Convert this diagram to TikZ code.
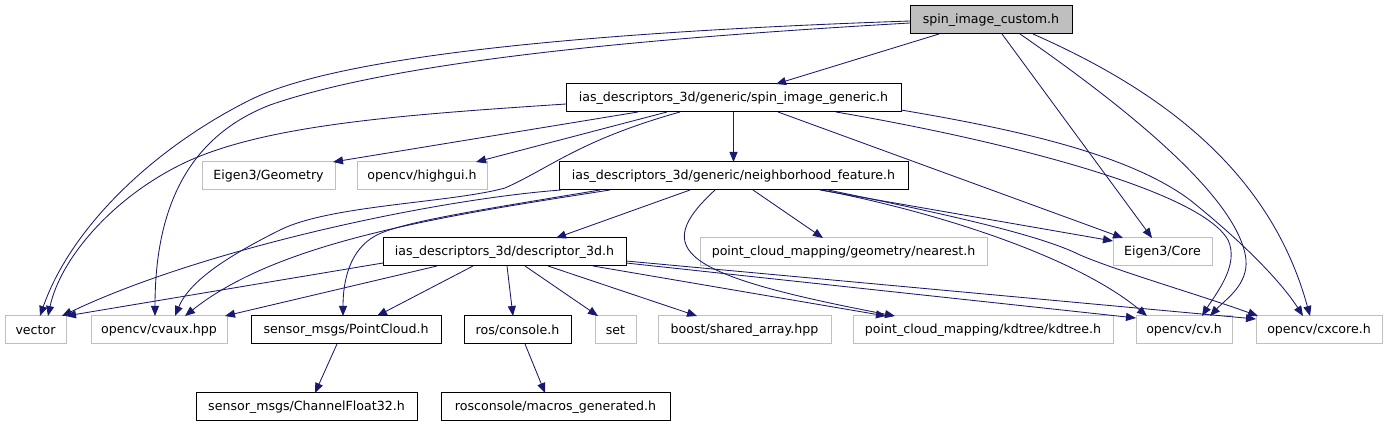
\documentclass[tikz,border=0pt]{standalone}
\usepackage{fontspec}
\setmainfont{DejaVu Sans}
\usetikzlibrary{arrows.meta,calc}
\definecolor{edgeblue}{HTML}{191970}
\definecolor{extgray}{HTML}{BFBFBF}
\tikzset{
  box/.style={rectangle, minimum height=28pt, inner sep=0pt, outer sep=0pt, line width=1pt,
              font=\fontsize{12.6}{15}\selectfont, anchor=north west},
  docbox/.style={box, draw=black, fill=white},
  extbox/.style={box, draw=extgray, fill=white},
  rootbox/.style={box, draw=black, fill=extgray},
  edge/.style={draw=edgeblue, line width=0.85pt, -{Triangle[length=10pt,width=8pt]}},
}
\begin{document}
\begin{tikzpicture}[x=1pt,y=-1pt]
\useasboundingbox[fill=white] (0,0) rectangle (1387,427);
% nodes
\node[rootbox, minimum width=162pt] (C) at (910,6) {spin\_image\_custom.h};
\node[docbox, minimum width=335pt] (G) at (566,84) {ias\_descriptors\_3d/generic/spin\_image\_generic.h};
\node[docbox, minimum width=349pt] (N) at (559,162) {ias\_descriptors\_3d/generic/neighborhood\_feature.h};
\node[extbox, minimum width=133pt] (Geo) at (202,162) {Eigen3/Geometry};
\node[extbox, minimum width=130pt] (HG) at (357,162) {opencv/highgui.h};
\node[docbox, minimum width=243pt] (D) at (383,238) {ias\_descriptors\_3d/descriptor\_3d.h};
\node[extbox, minimum width=287pt] (Near) at (700,238) {point\_cloud\_mapping/geometry/nearest.h};
\node[extbox, minimum width=99pt] (Core) at (1113,238) {Eigen3/Core};
\node[extbox, minimum width=61pt] (Vec) at (5,316) {vector};
\node[extbox, minimum width=136pt] (Cvaux) at (91,316) {opencv/cvaux.hpp};
\node[docbox, minimum width=190pt] (PC) at (251,316) {sensor\_msgs/PointCloud.h};
\node[docbox, minimum width=107pt] (Con) at (464,316) {ros/console.h};
\node[extbox, minimum width=41pt] (Set) at (595,316) {set};
\node[extbox, minimum width=173pt] (Boost) at (658,316) {boost/shared\_array.hpp};
\node[extbox, minimum width=260pt] (Kd) at (853,316) {point\_cloud\_mapping/kdtree/kdtree.h};
\node[extbox, minimum width=96pt] (Cv) at (1136,316) {opencv/cv.h};
\node[extbox, minimum width=126pt] (Cx) at (1256,316) {opencv/cxcore.h};
\node[docbox, minimum width=221pt] (CF) at (196,393) {sensor\_msgs/ChannelFloat32.h};
\node[docbox, minimum width=229pt] (Mac) at (441,393) {rosconsole/macros\_generated.h};
% edges from spin_image_custom.h
\draw[edge] ($(C.north west)+(0,15)$) .. controls (650,30) and (350,50) .. (250,100)
            .. controls (150,150) and (70,230) .. ($(Vec.north west)+(35,0)$);
\draw[edge] ($(C.north west)+(0,17)$) .. controls (650,38) and (400,60) .. (270,105)
            .. controls (180,140) and (155,220) .. ($(Cvaux.north west)+(64,0)$);
\draw[edge] ($(C.north west)+(29,28)$) -- ($(G.north west)+(210,0)$);
\draw[edge] ($(C.north west)+(92,28)$) -- ($(Core.north west)+(39,0)$);
\draw[edge] ($(C.north west)+(110,28)$) .. controls (1130,110) and (1240,200) .. (1246,260)
            .. controls (1248,285) and (1225,300) .. ($(Cv.north west)+(74,0)$);
\draw[edge] ($(C.north west)+(123,28)$) .. controls (1160,90) and (1270,170) .. ($(Cx.north west)+(54,0)$);
% edges from spin_image_generic.h
\draw[edge] ($(G.north west)+(0,20)$) .. controls (400,115) and (260,125) .. (180,165)
            .. controls (110,200) and (60,260) .. ($(Vec.north west)+(43,0)$);
\draw[edge] ($(G.north west)+(72,28)$) -- ($(Geo.north west)+(131,0)$);
\draw[edge] ($(G.north west)+(101,28)$) -- ($(HG.north west)+(119,0)$);
\draw[edge] ($(G.north west)+(114,28)$) .. controls (580,140) and (550,168) .. (505,188)
            .. controls (450,203) and (330,205) .. (280,230)
            .. controls (230,255) and (190,280) .. ($(Cvaux.north west)+(84,0)$);
\draw[edge] (G.south) -- (N.north);
\draw[edge] ($(G.north west)+(212,28)$) -- ($(Core.north west)+(10,0)$);
\draw[edge] ($(G.north west)+(270,28)$) .. controls (1000,140) and (1200,190) .. (1228,240)
            .. controls (1240,265) and (1215,295) .. ($(Cv.north west)+(66,0)$);
\draw[edge] ($(G.north west)+(335,26)$) .. controls (1020,130) and (1130,155) .. (1190,200)
            .. controls (1240,240) and (1280,280) .. ($(Cx.north west)+(47,0)$);
% edges from neighborhood_feature.h
\draw[edge] ($(N.north west)+(2,28)$) .. controls (430,200) and (200,250) .. ($(Vec.north west)+(57,0)$);
\draw[edge] ($(N.north west)+(51,28)$) .. controls (450,215) and (280,240) .. ($(Cvaux.north west)+(94,0)$);
\draw[edge] ($(N.north west)+(131,28)$) -- ($(D.north west)+(173,0)$);
\draw[edge] ($(N.north west)+(41,28)$) .. controls (480,210) and (400,222) .. (375,236)
            .. controls (350,250) and (343,280) .. ($(PC.north west)+(92,0)$);
\draw[edge] ($(N.north west)+(194,28)$) -- ($(Near.north west)+(123,0)$);
\draw[edge] ($(N.north west)+(156,28)$) .. controls (650,250) and (680,275) .. ($(Kd.north west)+(42,0)$);
\draw[edge] ($(N.north west)+(261,28)$) -- ($(Core.north west)+(0,3)$);
\draw[edge] ($(N.north west)+(263,28)$) .. controls (950,215) and (1080,260) .. ($(Cv.north west)+(11,0)$);
\draw[edge] ($(N.north west)+(269,28)$) .. controls (950,215) and (1040,235) .. (1080,255)
            .. controls (1120,272) and (1200,295) .. ($(Cx.north west)+(2,0)$);
% edges from descriptor_3d.h
\draw[edge] ($(D.north west)+(0,25)$) -- (Vec.north east);
\draw[edge] ($(D.north west)+(54,28)$) -- ($(Cvaux.north west)+(134,0)$);
\draw[edge] ($(D.north west)+(90,28)$) -- ($(PC.north west)+(126,0)$);
\draw[edge] ($(D.north west)+(124,28)$) -- ($(Con.north west)+(49,0)$);
\draw[edge] ($(D.north west)+(142,28)$) -- ($(Set.north west)+(3,0)$);
\draw[edge] ($(D.north west)+(165,28)$) -- ($(Boost.north west)+(39,0)$);
\draw[edge] ($(D.north west)+(210,28)$) -- ($(Kd.north west)+(33,0)$);
\draw[edge] ($(D.north west)+(243,25)$) -- ($(Cv.north west)+(0,2)$);
\draw[edge] ($(D.north west)+(243,23)$) -- ($(Cx.north west)+(0,3)$);
% lowest level
\draw[edge] ($(PC.north west)+(86,28)$) -- ($(CF.north west)+(119,0)$);
\draw[edge] ($(Con.north west)+(61,28)$) -- ($(Mac.north west)+(104,0)$);
\end{tikzpicture}
\end{document}
